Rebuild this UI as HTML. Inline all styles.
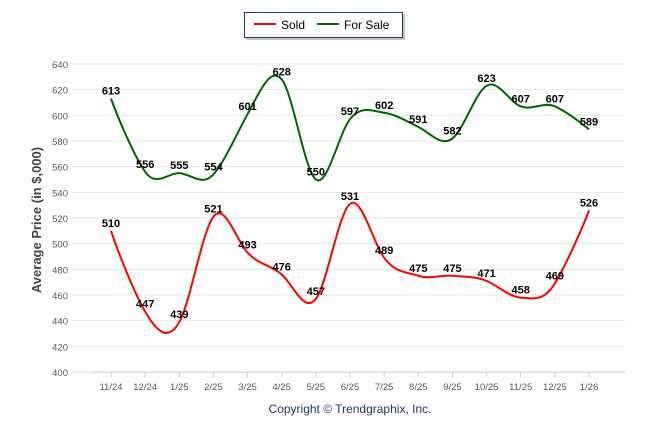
<!DOCTYPE html>
<html><head><meta charset="utf-8"><style>
body{margin:0;background:#fff;font-family:"Liberation Sans",sans-serif}
svg{display:block}
</style></head><body>
<svg id="c" width="646" height="434">
<g id="grid"></g><g id="series"></g><g id="labels"></g>
<g>
<rect x="246" y="14" width="159" height="26" fill="#888" opacity="0.5"/>
<rect x="244.5" y="12.5" width="158" height="25" fill="#fff" stroke="#1f3864" stroke-width="1"/>
<line x1="254" y1="24" x2="276" y2="24" stroke="#f00" stroke-width="2"/>
<text x="281" y="29" font-size="12" fill="#000">Sold</text>
<line x1="317" y1="24" x2="339" y2="24" stroke="#006400" stroke-width="2"/>
<text x="344" y="29" font-size="12" fill="#000">For Sale</text>
</g>
<text transform="translate(41,220) rotate(-90)" text-anchor="middle" font-size="13" font-weight="bold" fill="#444">Average Price (in $,000)</text>
<text x="350" y="413" text-anchor="middle" font-size="12" fill="#1f3864">Copyright © Trendgraphix, Inc.</text>
</svg>
<script>
const categories=["11/24","12/24","1/25","2/25","3/25","4/25","5/25","6/25","7/25","8/25","9/25","10/25","11/25","12/25","1/26"];
const sold=[510,447,439,521,493,476,457,531,489,475,475,471,458,469,526];
const forSale=[613,556,555,554,601,628,550,597,602,591,582,623,607,607,589];
const yTicks=[400,420,440,460,480,500,520,540,560,580,600,620,640];
const NS="http://www.w3.org/2000/svg";
const y=v=>372-(v-400)*308/240;
const x=i=>111+i*(589-111)/14;
function el(t,a,p){const e=document.createElementNS(NS,t);for(const k in a)e.setAttribute(k,a[k]);p.appendChild(e);return e;}
const grid=document.getElementById('grid');
yTicks.forEach(v=>{
 const l=el('line',{x1:72,x2:625,y1:y(v),y2:y(v),stroke:'#e6e6e6'},grid);
 
 
 const t=el('text',{x:68,y:y(v)+4,'text-anchor':'end','font-size':9.5,fill:'#555'},grid);
 t.textContent=v;
 
 
});
el('line',{x1:92,x2:625,y1:372.5,y2:372.5,stroke:'#ddd'},grid);
categories.forEach((c,i)=>{
 el('line',{x1:x(i),x2:x(i),y1:372,y2:377,stroke:'#ccc'},grid);
 const t=el('text',{x:x(i),y:390,'text-anchor':'middle','font-size':9.5,fill:'#555'},grid);
 t.textContent=c;
 
 
});
function path(vals){
 const p=vals.map((v,i)=>[x(i),y(v)]);
 let d='M'+p[0][0]+','+p[0][1];
 const t=0.5;
 for(let i=0;i<p.length-1;i++){
  const p0=p[i-1]||p[i],p1=p[i],p2=p[i+1],p3=p[i+2]||p2;
  const c1=[p1[0]+(p2[0]-p0[0])*t/3,p1[1]+(p2[1]-p0[1])*t/3*1.3];
  const c2=[p2[0]-(p3[0]-p1[0])*t/3,p2[1]-(p3[1]-p1[1])*t/3*1.3];
  d+=` C${c1[0]},${c1[1]} ${c2[0]},${c2[1]} ${p2[0]},${p2[1]}`;
 }
 return d;
}
const sg=document.getElementById('series'),lg=document.getElementById('labels');
[[forSale,'#006400','for-sale'],[sold,'#f00','sold']].forEach(([vals,col,n])=>{
 const pa=el('path',{d:path(vals),fill:'none',stroke:col,'stroke-width':2},sg);
 
 
 vals.forEach((v,i)=>{
  const t=el('text',{x:x(i),y:y(v)-4,'text-anchor':'middle','font-size':11,'font-weight':'bold',fill:'#000'},lg);
  t.textContent=v;
  
  
 });
});
</script>
</body></html>
